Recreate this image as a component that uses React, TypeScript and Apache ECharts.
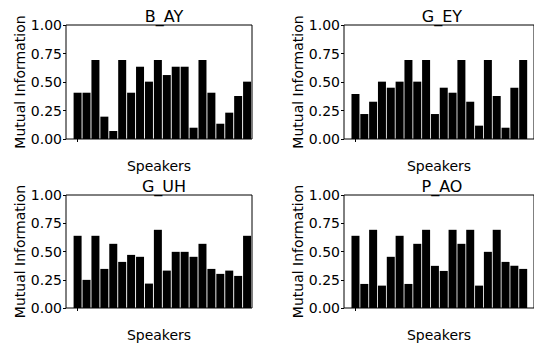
import React, { useEffect, useRef } from "react";
import * as echarts from "echarts";

const titles = ["B_AY", "G_EY", "G_UH", "P_AO"];
const speakers = Array.from({ length: 20 }, (_, i) => i);
const yTicks = [0, 0.25, 0.5, 0.75, 1.0];

const bAY = [0.406, 0.406, 0.693, 0.196, 0.07, 0.693, 0.406, 0.634, 0.503, 0.693, 0.561, 0.634, 0.634, 0.099, 0.693, 0.406, 0.134, 0.231, 0.377, 0.503];
const gEY = [0.395, 0.219, 0.327, 0.503, 0.45, 0.503, 0.693, 0.503, 0.693, 0.219, 0.45, 0.406, 0.693, 0.327, 0.117, 0.693, 0.377, 0.099, 0.45, 0.693];
const gUH = [0.639, 0.249, 0.639, 0.346, 0.568, 0.408, 0.47, 0.453, 0.216, 0.692, 0.331, 0.497, 0.497, 0.453, 0.568, 0.346, 0.302, 0.331, 0.284, 0.639];
const pAO = [0.639, 0.213, 0.692, 0.198, 0.453, 0.639, 0.213, 0.568, 0.692, 0.373, 0.328, 0.692, 0.568, 0.692, 0.198, 0.497, 0.692, 0.408, 0.373, 0.346];

const seriesValues = [bAY, gEY, gUH, pAO];

const FONT = "DejaVu Sans";

export default function App() {
  const ref = useRef<HTMLDivElement>(null);
  useEffect(() => {
    if (!ref.current) return;
    const chart = echarts.init(ref.current, undefined, { renderer: "svg" });
    const grids = [
      { left: 66, top: 25, width: 186, height: 114 },
      { left: 344, top: 25, width: 192, height: 114 },
      { left: 66, top: 195, width: 186, height: 113 },
      { left: 344, top: 195, width: 192, height: 113 },
    ];
    const pxPerUnit = 8.92;
    const xmin = -1.3;
    const option: any = {
      animation: false,
      backgroundColor: "#fff",
      textStyle: { fontFamily: FONT },
      title: grids.map((g, i) => ({
        text: titles[i],
        left: g.left + 186 / 2,
        top: g.top - 22,
        textAlign: "center",
        textStyle: { fontFamily: FONT, fontSize: 16, fontWeight: "normal", color: "#000" },
      })),
      grid: grids.map((g) => ({
        ...g,
        show: true,
        borderColor: "#000",
        borderWidth: 1,
        backgroundColor: "transparent",
        containLabel: false,
      })),
      xAxis: grids.map((g, i) => ({
        type: "value",
        gridIndex: i,
        min: xmin,
        max: xmin + g.width / pxPerUnit,
        name: "Speakers",
        nameLocation: "middle",
        nameGap: 20,
        nameTextStyle: { fontFamily: FONT, fontSize: 14, color: "#000" },
        splitLine: { show: false },
        axisLine: { show: false, onZero: false },
        axisTick: { show: true, customValues: [speakers[0]], length: 3, lineStyle: { color: "#000" } },
        axisLabel: { show: false },
      })),
      yAxis: grids.map((g, i) => ({
        type: "value",
        gridIndex: i,
        min: yTicks[0],
        max: yTicks[yTicks.length - 1],
        interval: 0.25,
        name: "Mutual Information",
        nameLocation: "middle",
        nameGap: 38,
        nameTextStyle: { fontFamily: FONT, fontSize: 14, color: "#000" },
        splitLine: { show: false },
        axisLine: { show: false, onZero: false },
        axisTick: { show: true, length: 3, lineStyle: { color: "#000" } },
        axisLabel: {
          fontFamily: FONT,
          fontSize: 14,
          color: "#000",
          margin: 4,
          formatter: (v: number) => v.toFixed(2),
        },
      })),
      series: seriesValues.map((vals, i) => ({
        type: "bar",
        xAxisIndex: i,
        yAxisIndex: i,
        barWidth: 8,
        itemStyle: { color: "#000" },
        data: vals.map((v, k) => [speakers[k], v]),
      })),
    };
    chart.setOption(option);
    return () => chart.dispose();
  }, []);
  return (
    <div
      ref={ref}
      style={{ position: "fixed", left: 0, top: 0, width: 534, height: 345, background: "#fff" }}
    />
  );
}
